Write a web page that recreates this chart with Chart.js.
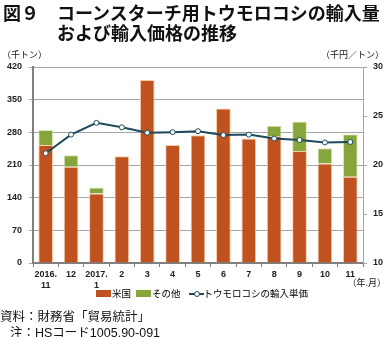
<!DOCTYPE html>
<html>
<head>
<meta charset="utf-8">
<script src="https://cdn.jsdelivr.net/npm/chart.js@4/dist/chart.umd.min.js"></script>
<style>
  body { margin: 0; background: #fff; font-family: "Liberation Sans", "Noto Sans CJK JP", sans-serif; }
  #wrap { position: relative; width: 386px; height: 337px; overflow: hidden; }
  #chart { position: absolute; left: 0; top: 0; }
  .t { position: absolute; white-space: nowrap; color: #111; }
  .title { font-size: 18px; font-weight: bold; line-height: 20px; font-family: "Noto Sans CJK JP", sans-serif; }
  .unit { font-size: 9px; }
  .note { font-size: 12.5px; }
  .legend { position: absolute; top: 286px; left: 96px; font-size: 9.5px; display: flex; align-items: center; }
  .sw { display: inline-block; width: 15px; height: 7px; margin-right: 1px; }
  .lg { display: inline-block; position: relative; width: 15px; height: 9px; }
  .lg::before { content: ""; position: absolute; left: 0; right: 0; top: 4px; border-top: 2px solid #1d4a5c; }
  .lg::after { content: ""; position: absolute; left: 5px; top: 2px; width: 4px; height: 4px; border: 1px solid #1d4a5c; border-radius: 50%; background: #fff; }
</style>
</head>
<body>
<div id="wrap">
  <canvas id="chart" width="386" height="337"></canvas>
  <div class="t title" style="left:3px; top:2px;">図９</div>
  <div class="t title" style="left:57px; top:2px;">コーンスターチ用トウモロコシの輸入量</div>
  <div class="t title" style="left:57px; top:22px;">および輸入価格の推移</div>
  <div class="t unit" style="left:2px; top:48px;">（千トン）</div>
  <div class="t unit" style="right:2px; top:48px;">（千円／トン）</div>
  <div class="t unit" style="right:0px; top:276px;">（年.月）</div>
  <div class="legend">
    <span class="sw" style="background:#c0521f"></span><span>米国</span>
    <span class="sw" style="background:#86a53a; margin-left:5px"></span><span>その他</span>
    <span class="lg" style="margin-left:8px"></span><span>トウモロコシの輸入単価</span>
  </div>
  <div class="t note" style="left:0px; top:306px;">資料：財務省「貿易統計」</div>
  <div class="t note" style="left:10px; top:322px;">注：HSコード1005.90-091</div>
</div>
<script>
const months = [['2016.', '11'], '12', ['2017.', '1'], '2', '3', '4', '5', '6', '7', '8', '9', '10', '11'];
const usVolume = [253, 206, 149, 229, 392, 253, 274, 331, 267, 272, 240, 213, 185];
const otherVolume = [32, 25, 13, null, null, null, null, null, null, 22, 63, 33, 91];
const unitPrice = [21.2, 23.1, 24.3, 23.85, 23.3, 23.35, 23.45, 23.05, 23.1, 22.7, 22.55, 22.3, 22.35];
const leftTicks = [0, 70, 140, 210, 280, 350, 420];
const rightTicks = [10, 15, 20, 25, 30];

const tickFont = { family: '"Liberation Sans", "Noto Sans CJK JP", sans-serif', size: 9, weight: 'bold' };

new Chart(document.getElementById('chart'), {
    data: {
        labels: months,
        datasets: [{
            type: 'line',
            label: 'トウモロコシの輸入単価',
            data: unitPrice,
            yAxisID: 'y1',
            borderColor: '#1d4a5c',
            borderWidth: 2,
            pointRadius: 2.5,
            pointBackgroundColor: '#fff',
            pointBorderColor: '#1d4a5c',
            pointBorderWidth: 1,
            tension: 0,
            order: 0
        }, {
            type: 'bar',
            label: '米国',
            data: usVolume,
            yAxisID: 'y',
            backgroundColor: '#c0521f',
            borderColor: 'rgba(245,200,160,0.9)',
            borderWidth: 1,
            categoryPercentage: 1,
            barPercentage: 0.58,
            order: 1
        }, {
            type: 'bar',
            label: 'その他',
            data: otherVolume,
            yAxisID: 'y',
            backgroundColor: '#86a53a',
            borderColor: 'rgba(215,230,180,0.9)',
            borderWidth: 1,
            categoryPercentage: 1,
            barPercentage: 0.58,
            order: 1
        }]
    },
    options: {
        responsive: false,
        animation: false,
        layout: { padding: { top: 67, bottom: 48, left: 0, right: 0 } },
        plugins: { legend: { display: false }, tooltip: { enabled: false } },
        scales: {
            x: {
                stacked: true,
                afterFit: s => { s.height = 26; },
                grid: { offset: true, drawOnChartArea: false, tickLength: 4, color: '#808080' },
                border: { color: '#808080', width: 2 },
                ticks: { font: tickFont, color: '#222', padding: 2, maxRotation: 0, autoSkip: false }
            },
            y: {
                stacked: true,
                min: 0,
                max: 420,
                afterFit: s => { s.width = 33; },
                afterBuildTicks: s => { s.ticks = leftTicks.map(v => ({ value: v })); },
                grid: { color: '#a6a6a6', lineWidth: 1, tickLength: 4 },
                border: { color: '#808080', width: 2 },
                ticks: { font: tickFont, color: '#222', padding: 7 }
            },
            y1: {
                position: 'right',
                min: 10,
                max: 30,
                afterFit: s => { s.width = 23; },
                afterBuildTicks: s => { s.ticks = rightTicks.map(v => ({ value: v })); },
                grid: { drawOnChartArea: false, tickLength: 4, color: '#a6a6a6' },
                border: { color: '#a6a6a6', width: 1 },
                ticks: { font: tickFont, color: '#222', padding: 6 }
            }
        }
    }
});
</script>
</body>
</html>
